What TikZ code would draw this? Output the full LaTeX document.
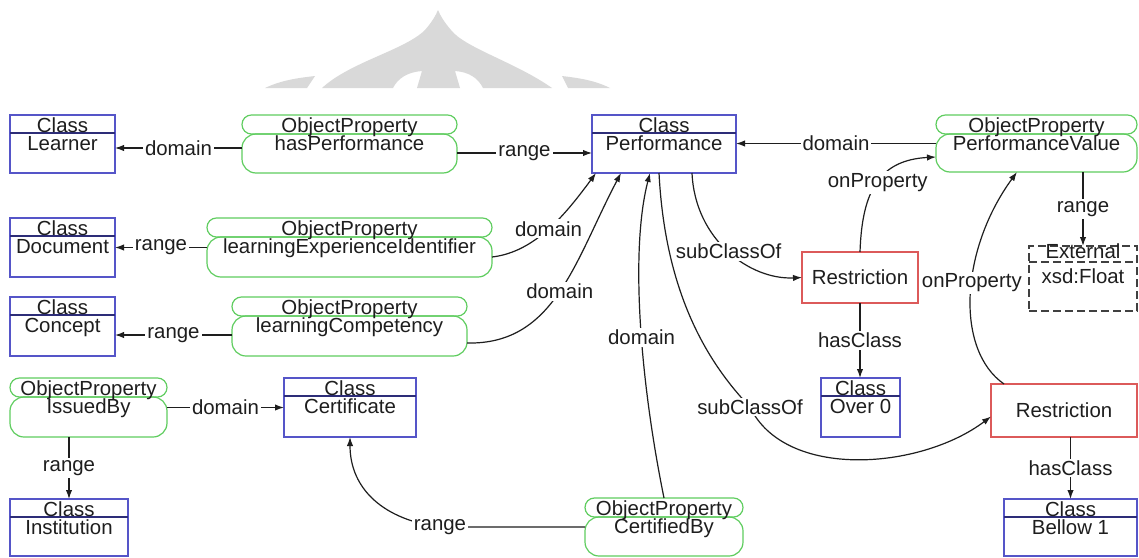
\documentclass[tikz,border=0pt]{standalone}
\usepackage{fontspec}
\setmainfont{Liberation Sans}
\usetikzlibrary{arrows.meta}

\definecolor{clsblue}{RGB}{85,85,200}
\definecolor{clshead}{RGB}{45,45,120}
\definecolor{propgreen}{RGB}{95,205,95}
\definecolor{restred}{RGB}{220,90,90}
\definecolor{ink}{RGB}{30,30,30}
\definecolor{markgray}{RGB}{217,217,217}

\tikzset{
  every node/.style={font=\fontsize{10.2}{12}\selectfont, text=ink},
  boxframe/.style={rectangle, inner sep=0pt, outer sep=0pt, anchor=north west},
  clsframe/.style={boxframe, draw=clsblue, line width=0.6pt},
  propframe/.style={boxframe},
  restframe/.style={boxframe, draw=restred, line width=0.6pt},
  extframe/.style={boxframe, draw=ink!85, line width=0.6pt, dash pattern=on 4pt off 2pt},
  pill/.style={draw=propgreen, line width=0.6pt},
  txt/.style={anchor=base, inner sep=0pt},
  conn/.style={draw=ink, line width=0.6pt, -{Latex[length=4.5pt,width=3.2pt]}},
  lbl/.style={fill=white, inner sep=1pt},
}

% class box: name, left, top, width, height, class name
\newcommand\clsbox[6]{%
  \node[clsframe, minimum width=#4*0.5pt, minimum height=#5*0.5pt] (#1) at (#2,#3) {};
  \draw[clshead, line width=0.6pt] ([yshift=-9pt]#1.north west) -- ([yshift=-9pt]#1.north east);
  \node[txt] at ([yshift=-8.5pt]#1.north) {Class};
  \node[txt] at ([yshift=-17.5pt]#1.north) {#6};
}

% object property: name, left, top, width, height, property name
\newcommand\propbox[6]{%
  \node[propframe, minimum width=#4*0.5pt, minimum height=#5*0.5pt] (#1) at (#2,#3) {};
  \draw[pill, rounded corners=4.7pt] (#1.north west) rectangle ([yshift=-9.5pt]#1.north east);
  \draw[pill, rounded corners=7pt] ([yshift=-9.5pt]#1.north west) rectangle (#1.south east);
  \node[txt] at ([yshift=-8.5pt]#1.north) {ObjectProperty};
  \node[txt] at ([yshift=-17.5pt]#1.north) {#6};
}

% restriction: name, left, top, width, height
\newcommand\restbox[5]{%
  \node[restframe, minimum width=#4*0.5pt, minimum height=#5*0.5pt] (#1) at (#2,#3) {Restriction};
}

\begin{document}
\begin{tikzpicture}[x=0.5pt, y=-0.5pt]
  \useasboundingbox (0,0) rectangle (1139,557);
  \fill[white] (0,0) rectangle (1139,557);

  % grey dome emblem in the background
  \fill[markgray] (322,88) .. controls (350,62) and (405,50) .. (425,30)
    .. controls (432,22) and (436,15) .. (438,10)
    .. controls (440,15) and (444,22) .. (451,30)
    .. controls (465,48) and (515,62) .. (552,88)
    -- (483,88) .. controls (478,78) and (469,72) .. (455,71) -- (460,88)
    -- (417,88) -- (422,71) .. controls (408,72) and (398,78) .. (393,88) -- cycle;
  \fill[markgray] (265,88) .. controls (282,80) and (298,78) .. (315,76) -- (307,88) -- cycle;
  \fill[markgray] (562,76) .. controls (578,78) and (594,80) .. (610,88) -- (568,88) -- cycle;

  % classes
  \clsbox{learner}{10}{115}{105}{58}{Learner}
  \clsbox{document}{10}{218}{105}{59}{Document}
  \clsbox{concept}{10}{297}{105}{59}{Concept}
  \clsbox{certificate}{284}{378}{132}{59}{Certificate}
  \clsbox{institution}{10}{499}{118}{57}{Institution}
  \clsbox{perf}{592}{115}{144}{58}{Performance}
  \clsbox{over0}{821}{378}{79}{59}{Over 0}
  \clsbox{bellow1}{1004}{499}{133}{57}{Bellow 1}

  % object properties
  \propbox{hasperf}{242}{115}{215}{58}{hasPerformance}
  \propbox{lei}{207}{218}{285}{59}{learningExperienceIdentifier}
  \propbox{lc}{232}{297}{235}{59}{learningCompetency}
  \propbox{issued}{10}{378}{157}{59}{IssuedBy}
  \propbox{certby}{585}{498}{158}{58}{CertifiedBy}
  \propbox{pv}{936}{115}{201}{57}{PerformanceValue}

  % restrictions
  \restbox{r1}{802}{252}{116}{51}
  \restbox{r2}{991}{384}{146}{53}

  % external datatype
  \node[extframe, minimum width=54pt, minimum height=32.5pt] (ext) at (1029,246) {};
  \draw[ink!85, line width=0.6pt, dash pattern=on 4pt off 2pt]
    ([yshift=-8pt]ext.north west) -- ([yshift=-8pt]ext.north east);
  \node[txt] at ([yshift=-6.25pt]ext.north) {External};
  \node[txt] at ([yshift=-18.5pt]ext.north) {xsd:Float};

  % straight connectors
  \draw[conn] ([yshift=-2pt]hasperf.west) -- node[lbl]{domain} ([yshift=-2pt]learner.east);
  \draw[conn] ([yshift=-4.5pt]hasperf.east) -- node[lbl]{range} ([yshift=-4.5pt]perf.west);
  \draw[conn] (lei.west) -- node[lbl]{range} (document.east);
  \draw[conn] ([yshift=-4.25pt]lc.west) -- node[lbl]{range} ([yshift=-4.25pt]concept.east);
  \draw[conn] (issued.east) -- node[lbl]{domain} (certificate.west);
  \draw[conn] (institution.north |- issued.south) -- node[lbl]{range} (institution.north);
  \draw[conn] (pv.west) -- node[lbl]{domain} (pv.west -| perf.east);
  \draw[conn] (ext.north |- pv.south) -- node[lbl]{range} (ext.north);
  \draw[conn] (r1.south) -- node[lbl]{hasClass} (r1.south |- over0.north);
  \draw[conn] (bellow1.north |- r2.south) -- node[lbl]{hasClass} (bellow1.north);

  % curved connectors
  \draw[conn] ([yshift=-4.75pt]lei.east) .. controls (535,252) and (565,215) ..
    ([xshift=2pt]perf.south west) node[lbl, pos=0.5]{domain};
  \draw[conn] ([yshift=-8.25pt]lc.east) .. controls (555,345) and (575,260) ..
    ([xshift=14.5pt]perf.south west) node[lbl, pos=0.5]{domain};
  \draw[conn] (certby.north) .. controls (640,380) and (630,250) ..
    ([xshift=29pt]perf.south west) node[lbl, pos=0.45]{domain};
  \draw[conn] ([xshift=33.5pt]perf.south west) .. controls (665,290) and (705,360) ..
    (750,407) node[lbl]{subClassOf}
    .. controls (785,480) and (920,470) .. ([yshift=-3pt]r2.west);
  \draw[conn] ([xshift=50pt]perf.south west) .. controls (695,240) and (750,280) ..
    (r1.west) node[lbl, pos=0.5]{subClassOf};
  \draw[conn] (r1.north) .. controls (862,190) and (880,160) ..
    ([yshift=-6.75pt]pv.west) node[lbl, pos=0.5]{onProperty};
  \draw[conn] ([xshift=6.5pt]r2.north west) .. controls (955,350) and (960,250) ..
    ([xshift=40.5pt]pv.south west) node[lbl, pos=0.55]{onProperty};
  \draw[conn] (certby.west) -- (440,527) node[lbl]{range}
    .. controls (385,520) and (350,490) .. (certificate.south);
\end{tikzpicture}
\end{document}
